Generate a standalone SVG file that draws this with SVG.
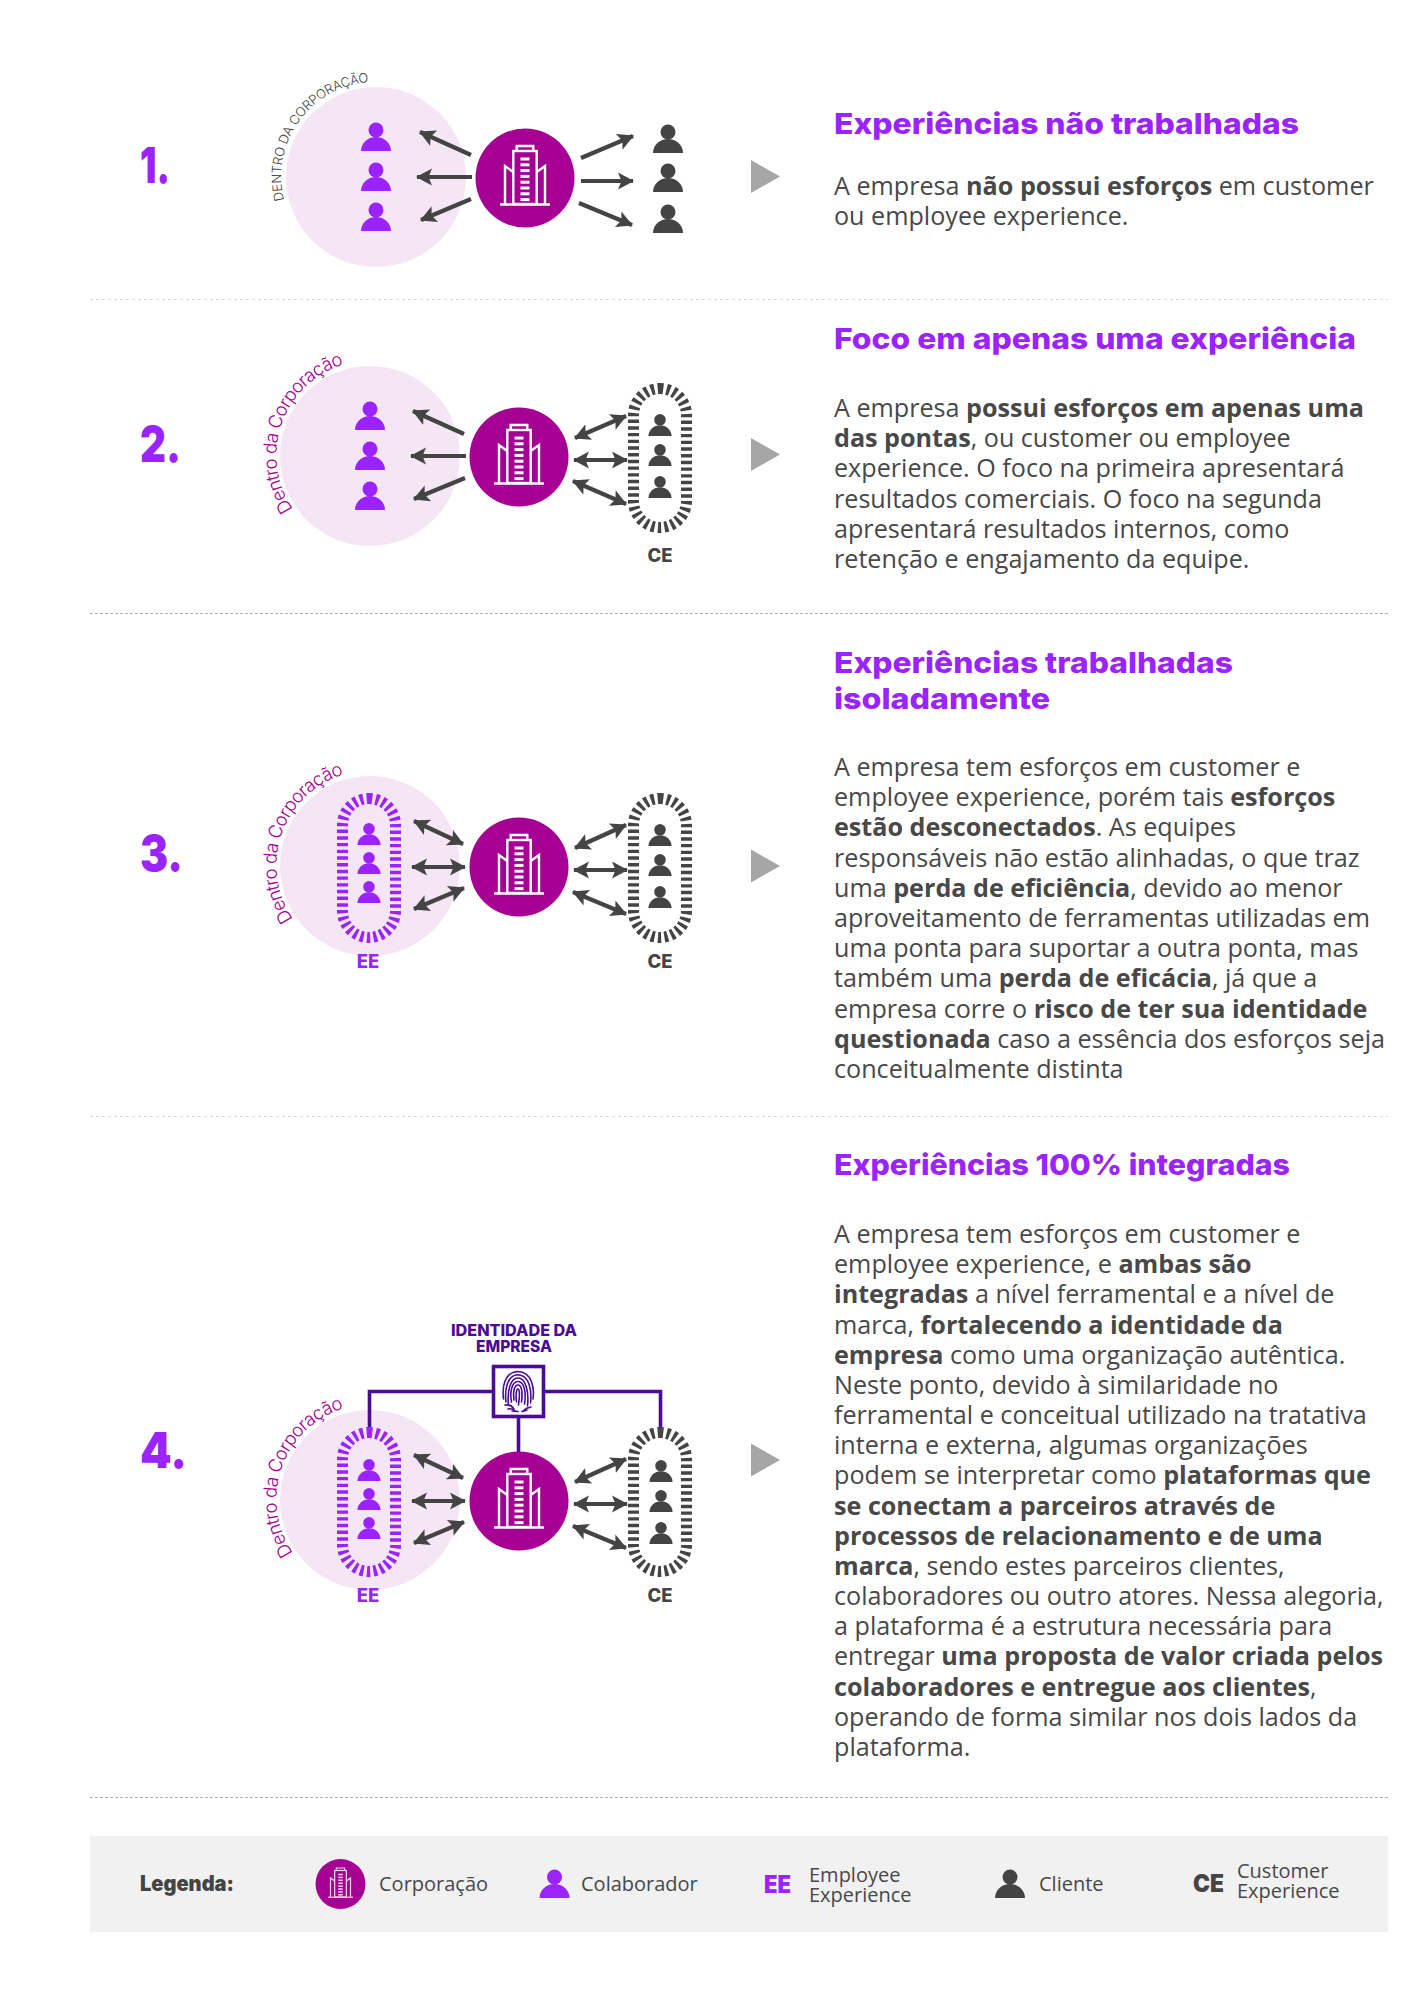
<svg xmlns="http://www.w3.org/2000/svg" width="1414" height="1999" viewBox="0 0 1414 1999">
<style>
.body{font-family:"Open Sans","Noto Sans",sans-serif;font-size:25.15px;fill:#484848}
.body tspan{font-weight:700}
.h{font-family:Inter,"Liberation Sans",sans-serif;font-size:29px;font-weight:800;fill:#9a23ff}
.num{font-family:Inter,"Liberation Sans",sans-serif;font-size:50px;font-weight:900;fill:#9a23ff}
.lab{font-family:Inter,"Liberation Sans",sans-serif;font-size:18.5px;font-weight:800;text-anchor:middle}
.leg{font-family:"Open Sans","Noto Sans",sans-serif;font-size:20px;fill:#484848}
.legb{font-family:Inter,"Liberation Sans",sans-serif;font-weight:900}
.curve{font-family:Inter,"Liberation Sans",sans-serif;font-weight:300}
.pale{fill:#f5e6f5}
.corp{fill:#a50093}
.ar{stroke:#444;stroke-width:4.2;fill:none;marker-end:url(#ah)}
.ard{stroke:#444;stroke-width:4.2;fill:none;marker-end:url(#ah);marker-start:url(#ah)}
.id{stroke:#4a0c96;stroke-width:3.6;fill:none}
.fp{stroke:#4a0c96;stroke-width:1.6;fill:none;stroke-linecap:round}
.tri{fill:#a6a6a6}
.cap{fill:none;stroke-width:11;stroke-dasharray:3.4 3.3}
.pu{fill:#9a23ff}
.dk{fill:#444}
.div1{stroke:#d8d8d8;stroke-width:1;stroke-dasharray:3 3}
.div2{stroke:#b0b0b0;stroke-width:1;stroke-dasharray:3 2}
</style>
<defs>
<marker id="ah" markerUnits="userSpaceOnUse" markerWidth="20" markerHeight="20" refX="15" refY="10" orient="auto-start-reverse"><path d="M0,1.5 L16,10 L0,18.5 L3.5,10 Z" fill="#444"/></marker>
<g id="person"><circle cx="0" cy="-21" r="7.5"/><path d="M-15,0 C-15,-8 -8,-14 0,-14 C8,-14 15,-8 15,0 Z"/></g>
<g id="building">
<g fill="none" stroke="#fff" stroke-width="2.4"><rect x="-11.7" y="-27" width="23.4" height="53"/><path d="M-8.3,-27 V-32 H8.3 V-27"/><path d="M-11.7,-6 L-20,-12 V26"/><path d="M11.7,-6 L20,-12 V26"/><path d="M-25,26.5 H25"/></g>
<g fill="#fff"><rect x="-4.5" y="-20.5" width="9" height="3"/><rect x="-4.5" y="-14.7" width="9" height="3"/><rect x="-4.5" y="-8.9" width="9" height="3"/><rect x="-4.5" y="-3.1" width="9" height="3"/><rect x="-4.5" y="2.7" width="9" height="3"/><rect x="-4.5" y="8.5" width="9" height="3"/><rect x="-4.5" y="14.3" width="9" height="3"/><rect x="-4.5" y="20.1" width="9" height="3"/></g>
</g>
<rect id="capsule" x="5.5" y="5.5" width="53" height="139" rx="26.5" ry="26.5"/>
<path id="arc1" d="M284,200 A95,95 0 0 1 371,82"/>
<path id="arc2" d="M293,509 A95,95 0 0 1 342,365"/>
<path id="arc3" d="M293,919 A95,95 0 0 1 342,775"/>
<path id="arc4" d="M293,1553 A95,95 0 0 1 342,1409"/>
</defs>
<rect width="1414" height="1999" fill="#fff"/>

<g id="dividers">
<line class="div1" x1="90" y1="299.5" x2="1388" y2="299.5"/>
<line class="div2" x1="90" y1="613.5" x2="1388" y2="613.5"/>
<line class="div1" x1="90" y1="1116.5" x2="1388" y2="1116.5"/>
<line class="div2" x1="90" y1="1797.5" x2="1388" y2="1797.5"/>
</g>

<g id="s1-inside"><circle class="pale" cx="376" cy="177" r="90"/></g>
<g id="s2-inside"><circle class="pale" cx="370" cy="456" r="90"/></g>
<g id="s3-inside"><circle class="pale" cx="370" cy="866" r="90"/></g>
<g id="s4-inside"><circle class="pale" cx="370" cy="1500" r="90"/></g>

<g id="connectors">
<line class="ar" x1="471" y1="155" x2="420" y2="132"/>
<line class="ar" x1="472" y1="177" x2="417" y2="177"/>
<line class="ar" x1="471" y1="199" x2="421" y2="220"/>
<line class="ar" x1="581" y1="158" x2="633" y2="136"/>
<line class="ar" x1="581" y1="181" x2="633" y2="181"/>
<line class="ar" x1="579" y1="203" x2="632" y2="225"/>

<line class="ar" x1="464" y1="434" x2="413" y2="411"/>
<line class="ar" x1="466" y1="456" x2="411" y2="456"/>
<line class="ar" x1="465" y1="478" x2="414" y2="499"/>
<line class="ard" x1="575" y1="438" x2="626" y2="416"/>
<line class="ard" x1="574" y1="460" x2="627" y2="460"/>
<line class="ard" x1="573" y1="481" x2="626" y2="504"/>

<line class="ard" x1="414" y1="821" x2="463" y2="844"/>
<line class="ard" x1="412" y1="867" x2="465" y2="867"/>
<line class="ard" x1="414" y1="909" x2="464" y2="888"/>
<line class="ard" x1="575" y1="848" x2="626" y2="825"/>
<line class="ard" x1="574" y1="870" x2="627" y2="870"/>
<line class="ard" x1="573" y1="892" x2="626" y2="914"/>

<line class="ard" x1="414" y1="1455" x2="463" y2="1478"/>
<line class="ard" x1="412" y1="1501" x2="465" y2="1501"/>
<line class="ard" x1="414" y1="1543" x2="464" y2="1522"/>
<line class="ard" x1="575" y1="1482" x2="626" y2="1459"/>
<line class="ard" x1="574" y1="1504" x2="627" y2="1504"/>
<line class="ard" x1="573" y1="1526" x2="626" y2="1548"/>

<path class="id" d="M369.5,1428 V1391.5 H492"/>
<path class="id" d="M545,1391.5 H660.5 V1428"/>
<path class="id" d="M518.5,1418 V1452"/>
</g>

<g id="section-1">
<text class="num" x="140" y="183" textLength="30" lengthAdjust="spacingAndGlyphs">1.</text>
<text class="curve" font-size="13" fill="#444"><textPath href="#arc1" textLength="165">DENTRO DA CORPORAÇÃO</textPath></text>
<g id="s1-ee" class="pu"><use href="#person" x="376" y="151"/><use href="#person" x="376" y="191"/><use href="#person" x="376" y="231"/></g>
<g id="s1-corp"><circle class="corp" cx="525" cy="178" r="49.5"/><use href="#building" x="525" y="178"/></g>
<g id="s1-ce" class="dk"><use href="#person" x="668" y="153"/><use href="#person" x="668" y="192"/><use href="#person" x="668" y="233"/></g>
<polygon class="tri" points="751,160 780,176.5 751,193"/>
<text class="h" x="834" y="134" textLength="465" lengthAdjust="spacingAndGlyphs">Experiências não trabalhadas</text>
<text class="body" x="834" y="195">A empresa <tspan>não possui esforços</tspan> em customer</text>
<text class="body" x="834" y="225">ou employee experience.</text>
</g>

<g id="section-2">
<text class="num" x="140" y="462" textLength="41" lengthAdjust="spacingAndGlyphs">2.</text>
<text class="curve" font-size="18.5" fill="#a50093"><textPath href="#arc2" textLength="178">Dentro da Corporação</textPath></text>
<g id="s2-ee" class="pu"><use href="#person" x="370" y="430"/><use href="#person" x="370" y="470"/><use href="#person" x="370" y="510"/></g>
<g id="s2-corp"><circle class="corp" cx="519" cy="457" r="49.5"/><use href="#building" x="519" y="457"/></g>
<g id="s2-ce"><use href="#capsule" x="628" y="383" class="cap" stroke="#444"/>
<g class="dk"><use href="#person" transform="translate(660,436) scale(.77)"/><use href="#person" transform="translate(660,466) scale(.77)"/><use href="#person" transform="translate(660,498) scale(.77)"/></g>
<text class="lab" x="660" y="562" fill="#444">CE</text></g>
<polygon class="tri" points="751,438 780,454.5 751,471"/>
<text class="h" x="834" y="349" textLength="522" lengthAdjust="spacingAndGlyphs">Foco em apenas uma experiência</text>
<text class="body" x="834" y="417">A empresa <tspan>possui esforços em apenas uma</tspan></text>
<text class="body" x="834" y="447.2"><tspan>das pontas</tspan>, ou customer ou employee</text>
<text class="body" x="834" y="477.4">experience. O foco na primeira apresentará</text>
<text class="body" x="834" y="507.6">resultados comerciais. O foco na segunda</text>
<text class="body" x="834" y="537.8">apresentará resultados internos, como</text>
<text class="body" x="834" y="568">retenção e engajamento da equipe.</text>
</g>

<g id="section-3">
<text class="num" x="140" y="871" textLength="43" lengthAdjust="spacingAndGlyphs">3.</text>
<text class="curve" font-size="18.5" fill="#a50093"><textPath href="#arc3" textLength="178">Dentro da Corporação</textPath></text>
<g id="s3-ee"><use href="#capsule" x="337" y="793" class="cap" stroke="#9a23ff"/>
<g class="pu"><use href="#person" transform="translate(369,845) scale(.77)"/><use href="#person" transform="translate(369,874) scale(.77)"/><use href="#person" transform="translate(369,903) scale(.77)"/></g>
<text class="lab" x="368" y="968" fill="#9a23ff">EE</text></g>
<g id="s3-corp"><circle class="corp" cx="519" cy="867" r="49.5"/><use href="#building" x="519" y="867"/></g>
<g id="s3-ce"><use href="#capsule" x="628" y="793" class="cap" stroke="#444"/>
<g class="dk"><use href="#person" transform="translate(660,846) scale(.77)"/><use href="#person" transform="translate(660,876) scale(.77)"/><use href="#person" transform="translate(660,908) scale(.77)"/></g>
<text class="lab" x="660" y="968" fill="#444">CE</text></g>
<polygon class="tri" points="751,849.5 780,866 751,882.5"/>
<text class="h" x="834" y="673" textLength="399" lengthAdjust="spacingAndGlyphs">Experiências trabalhadas</text>
<text class="h" x="834" y="709" textLength="216" lengthAdjust="spacingAndGlyphs">isoladamente</text>
<text class="body" x="834" y="776">A empresa tem esforços em customer e</text>
<text class="body" x="834" y="806.2">employee experience, porém tais <tspan>esforços</tspan></text>
<text class="body" x="834" y="836.4"><tspan>estão desconectados</tspan>. As equipes</text>
<text class="body" x="834" y="866.6">responsáveis não estão alinhadas, o que traz</text>
<text class="body" x="834" y="896.8">uma <tspan>perda de eficiência</tspan>, devido ao menor</text>
<text class="body" x="834" y="927">aproveitamento de ferramentas utilizadas em</text>
<text class="body" x="834" y="957.2">uma ponta para suportar a outra ponta, mas</text>
<text class="body" x="834" y="987.4">também uma <tspan>perda de eficácia</tspan>, já que a</text>
<text class="body" x="834" y="1017.6">empresa corre o <tspan>risco de ter sua identidade</tspan></text>
<text class="body" x="834" y="1047.8"><tspan>questionada</tspan> caso a essência dos esforços seja</text>
<text class="body" x="834" y="1078">conceitualmente distinta</text>
</g>

<g id="section-4">
<text class="num" x="140" y="1468" textLength="47" lengthAdjust="spacingAndGlyphs">4.</text>
<text class="curve" font-size="18.5" fill="#a50093"><textPath href="#arc4" textLength="178">Dentro da Corporação</textPath></text>
<g id="s4-ee"><use href="#capsule" x="337" y="1427" class="cap" stroke="#9a23ff"/>
<g class="pu"><use href="#person" transform="translate(369,1481) scale(.77)"/><use href="#person" transform="translate(369,1510) scale(.77)"/><use href="#person" transform="translate(369,1539) scale(.77)"/></g>
<text class="lab" x="368" y="1602" fill="#9a23ff">EE</text></g>
<g id="s4-corp"><circle class="corp" cx="519" cy="1501" r="49.5"/><use href="#building" x="519" y="1501"/></g>
<g id="s4-ce"><use href="#capsule" x="628" y="1427" class="cap" stroke="#444"/>
<g class="dk"><use href="#person" transform="translate(661,1482) scale(.77)"/><use href="#person" transform="translate(661,1512) scale(.77)"/><use href="#person" transform="translate(661,1544) scale(.77)"/></g>
<text class="lab" x="660" y="1602" fill="#444">CE</text></g>
<g id="s4-identity">
<text x="514" y="1336" text-anchor="middle" textLength="126" lengthAdjust="spacingAndGlyphs" font-family="Inter,'Liberation Sans',sans-serif" font-size="16" font-weight="800" fill="#4a0c96">IDENTIDADE DA</text>
<text x="514" y="1352" text-anchor="middle" textLength="76" lengthAdjust="spacingAndGlyphs" font-family="Inter,'Liberation Sans',sans-serif" font-size="16" font-weight="800" fill="#4a0c96">EMPRESA</text>
<rect x="493.5" y="1366.5" width="50" height="50" fill="#fff" stroke="#4a0c96" stroke-width="3.6"/>
<g class="fp">
<path d="M503.5,1399 C502,1388 504,1372 518,1371.5 C532,1372 534.5,1388 533,1399"/>
<path d="M506,1402 C504.5,1390 507,1375 518,1374.7 C529,1375 532,1390 530.5,1403"/>
<path d="M508.5,1405 C507,1392 510,1378 518,1378 C526,1378 529,1392 527.5,1406"/>
<path d="M511.5,1402 C509.5,1392 512,1381.5 518,1381.5 C524,1381.5 526.5,1392 524.5,1404"/>
<path d="M514,1400 C512.5,1392 514.5,1385 518,1385 C521.5,1385 523,1392 521.5,1402 "/>
<path d="M516.5,1402 C515.5,1394 516.5,1389 518,1389 C519.5,1389 520,1394 518.5,1405"/>
<path d="M505,1405 Q511,1404 514,1409"/><path d="M508,1409 Q512,1408 515,1411"/><path d="M512,1411 Q516,1411 518,1411.5"/>
<path d="M531,1407 Q526,1408 524,1410"/><path d="M527,1410 Q524,1411 522,1411.5"/>
</g>
</g>
<polygon class="tri" points="751,1443.5 780,1460 751,1476.5"/>
<text class="h" x="834" y="1175" textLength="456" lengthAdjust="spacingAndGlyphs">Experiências 100% integradas</text>
<text class="body" x="834" y="1243">A empresa tem esforços em customer e</text>
<text class="body" x="834" y="1273.2">employee experience, e <tspan>ambas são</tspan></text>
<text class="body" x="834" y="1303.4"><tspan>integradas</tspan> a nível ferramental e a nível de</text>
<text class="body" x="834" y="1333.6">marca, <tspan>fortalecendo a identidade da</tspan></text>
<text class="body" x="834" y="1363.7"><tspan>empresa</tspan> como uma organização autêntica.</text>
<text class="body" x="834" y="1393.9">Neste ponto, devido à similaridade no</text>
<text class="body" x="834" y="1424.1">ferramental e conceitual utilizado na tratativa</text>
<text class="body" x="834" y="1454.2">interna e externa, algumas organizações</text>
<text class="body" x="834" y="1484.4">podem se interpretar como <tspan>plataformas que</tspan></text>
<text class="body" x="834" y="1514.6"><tspan>se conectam a parceiros através de</tspan></text>
<text class="body" x="834" y="1544.7"><tspan>processos de relacionamento e de uma</tspan></text>
<text class="body" x="834" y="1574.9"><tspan>marca</tspan>, sendo estes parceiros clientes,</text>
<text class="body" x="834" y="1605.1">colaboradores ou outro atores. Nessa alegoria,</text>
<text class="body" x="834" y="1635.2">a plataforma é a estrutura necessária para</text>
<text class="body" x="834" y="1665.4">entregar <tspan>uma proposta de valor criada pelos</tspan></text>
<text class="body" x="834" y="1695.6"><tspan>colaboradores e entregue aos clientes</tspan>,</text>
<text class="body" x="834" y="1725.7">operando de forma similar nos dois lados da</text>
<text class="body" x="834" y="1755.9">plataforma.</text>
</g>

<g id="legend">
<rect x="90" y="1836" width="1298" height="96" fill="#f1f1f1"/>
<text class="legb" x="140" y="1891" font-size="21" font-weight="800" fill="#444" textLength="94" lengthAdjust="spacingAndGlyphs">Legenda:</text>
<g id="leg-corp"><circle class="corp" cx="340.5" cy="1884" r="25"/><use href="#building" transform="translate(340.5,1884) scale(.5)" opacity=".85"/><text class="leg" x="379" y="1891">Corporação</text></g>
<g id="leg-colab"><use href="#person" x="554.5" y="1898" class="pu"/><text class="leg" x="581" y="1891">Colaborador</text></g>
<g id="leg-ee"><text class="legb" x="764" y="1893" font-size="24" fill="#9a23ff" textLength="27" lengthAdjust="spacingAndGlyphs">EE</text><text class="leg" x="809" y="1882">Employee</text><text class="leg" x="809" y="1902">Experience</text></g>
<g id="leg-cliente"><use href="#person" x="1010" y="1898" class="dk"/><text class="leg" x="1039" y="1891">Cliente</text></g>
<g id="leg-ce"><text class="legb" x="1193" y="1892" font-size="24" fill="#444" textLength="31" lengthAdjust="spacingAndGlyphs">CE</text><text class="leg" x="1237" y="1878">Customer</text><text class="leg" x="1237" y="1898">Experience</text></g>
</g>
</svg>
